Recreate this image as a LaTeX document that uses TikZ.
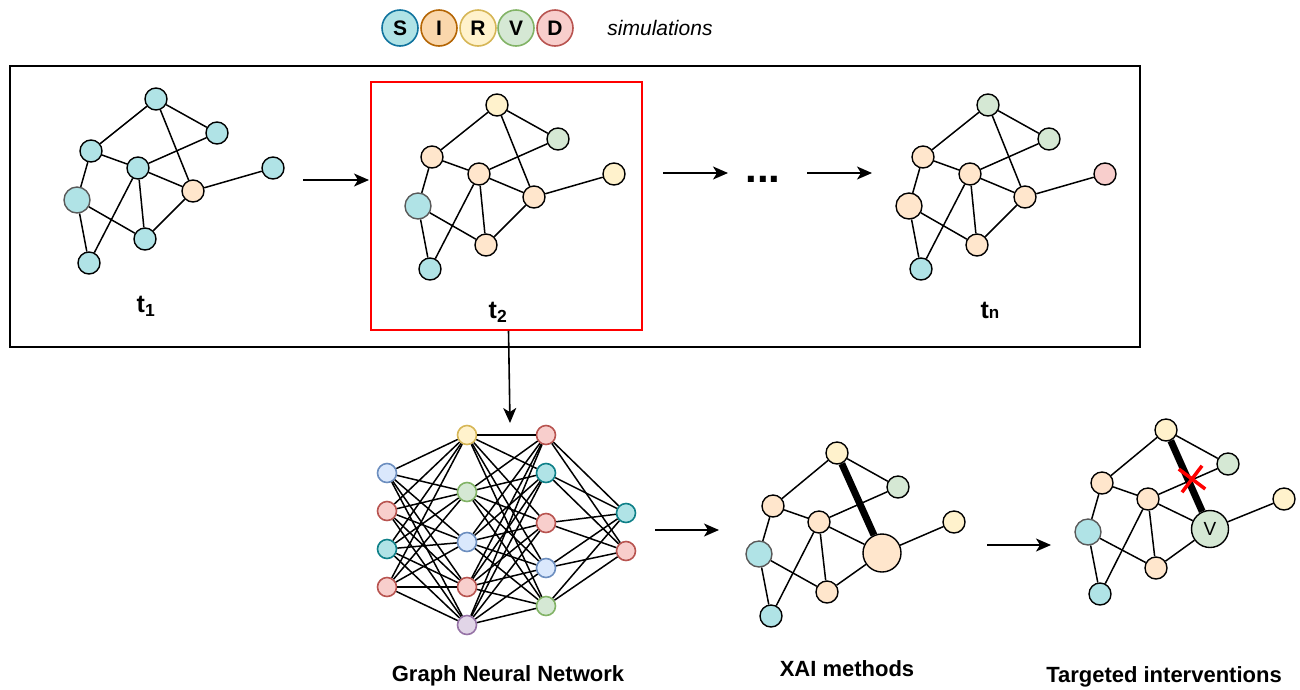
\documentclass[tikz,border=0pt]{standalone}
\usepackage{fontspec}
\setmainfont{Liberation Sans}
\usetikzlibrary{arrows.meta, shapes.misc, positioning, calc}

% state colours
\definecolor{ncyan}{HTML}{B0E3E6}
\definecolor{npeach}{HTML}{FFE6CC}
\definecolor{nyellow}{HTML}{FFF2CC}
\definecolor{ngreen}{HTML}{D5E8D4}
\definecolor{nred}{HTML}{F8CECC}
\definecolor{norange}{HTML}{FAD7AC}
\definecolor{nblue}{HTML}{DAE8FC}
\definecolor{npurple}{HTML}{E1D5E7}
% border colours
\definecolor{dcyan}{HTML}{10739E}
\definecolor{dteal}{HTML}{0E8088}
\definecolor{dorange}{HTML}{B46504}
\definecolor{dyellow}{HTML}{D6B656}
\definecolor{dgreen}{HTML}{82B366}
\definecolor{dred}{HTML}{B85450}
\definecolor{dblue}{HTML}{6C8EBF}
\definecolor{dpurple}{HTML}{9673A6}

\tikzset{
	gnode/.style={circle, draw, line width=1.4pt, inner sep=0pt, minimum size=22pt},
	bignode/.style={gnode, minimum size=26pt, draw=black!65},
	edge/.style={line width=1.5pt},
	hotedge/.style={line width=7pt},
	nnode/.style 2 args={circle, fill=#1, draw=#2, line width=1.6pt, inner sep=0pt, minimum size=19pt},
	keynode/.style={circle, line width=1.6pt, inner sep=0pt, minimum size=36pt, font=\fontsize{21}{21}\selectfont\bfseries},
	flow/.style={-{Stealth[length=15pt,width=13pt,inset=4pt]}, line width=1.6pt},
	caption/.style={font=\fontsize{22}{26}\selectfont\bfseries},
	steplbl/.style={font=\fontsize{25}{26}\selectfont\bfseries},
}

% edges shared by every contact graph
\def\graphedges{a/c, a/b, a/e, c/d, c/g, d/b, d/e, d/h, d/i, e/h, e/f, g/h, g/i}

\begin{document}
\begin{tikzpicture}[x=1pt, y=-1pt]
			\useasboundingbox (0,0) rectangle (1300,689);
			
			% Compartment key
			\foreach \l/\x/\f/\d in {S/400/ncyan/dcyan, I/439/norange/dorange, R/478/nyellow/dyellow, V/516/ngreen/dgreen, D/555/nred/dred}
				\node[keynode, fill=\f, draw=\d] (key\l) at (\x,28) {\l};
			\node[font=\fontsize{21}{25}\selectfont\itshape] (simlabel) at (660,28) {simulations};
			
			% Frames
			\node[draw, line width=1.5pt, minimum width=1130pt, minimum height=281pt] (frame) at (575,206.5) {};
			\node[draw=red, line width=1.5pt, minimum width=271pt, minimum height=248pt] (t2box) at (506.5,206) {};
			
			% Snapshot t1
			\foreach \n/\x/\y/\c in {a/156/99/ncyan, b/217/133/ncyan, c/91/151/ncyan, d/138/168/ncyan, e/193/191/npeach, f/273/168/ncyan, h/145/239/ncyan, i/89/263/ncyan}
				\node[gnode, fill=\c] (t1\n) at (\x,\y) {};
			\node[bignode, fill=ncyan] (t1g) at (77,200) {};
			\foreach \u/\v in \graphedges
				\draw[edge] (t1\u) -- (t1\v);
			\node[steplbl] (t1lbl) at (146,306) {t\textsubscript{1}};
			
			% Snapshot t2
			\begin{scope}[shift={(341,6)}]
				\foreach \n/\x/\y/\c in {a/156/99/nyellow, b/217/133/ngreen, c/91/151/npeach, d/138/168/npeach, e/193/191/npeach, f/273/168/nyellow, h/145/239/npeach, i/89/263/ncyan}
					\node[gnode, fill=\c] (t2\n) at (\x,\y) {};
				\node[bignode, fill=ncyan] (t2g) at (77,200) {};
				\foreach \u/\v in \graphedges
					\draw[edge] (t2\u) -- (t2\v);
				\node[steplbl] (t2lbl) at (157,306) {t\textsubscript{2}};
			\end{scope}
			
			% Snapshot tn
			\begin{scope}[shift={(832,6)}]
				\foreach \n/\x/\y/\c in {a/156/99/ngreen, b/217/133/ngreen, c/91/151/npeach, d/138/168/npeach, e/193/191/npeach, f/273/168/nred, h/145/239/npeach, i/89/263/ncyan}
					\node[gnode, fill=\c] (tn\n) at (\x,\y) {};
				\node[gnode, minimum size=26pt, fill=npeach] (tng) at (77,200) {};
				\foreach \u/\v in \graphedges
					\draw[edge] (tn\u) -- (tn\v);
				\node[steplbl] (tnlbl) at (158,304) {t{\fontsize{17}{17}\selectfont n}};
			\end{scope}
			
			% Time steps
			\coordinate (s1) at (303,180);
			\coordinate (e1) at (369,180);
			\draw[flow] (s1) -- (e1);
			\node[font=\fontsize{42}{42}\selectfont\bfseries, anchor=base] (dots) at (763,182) {...};
			\coordinate (s2) at (663,173);
			\coordinate (e2) at (728,173);
			\draw[flow] (s2) -- (e2);
			\coordinate (s3) at (807,173);
			\coordinate (e3) at (872,173);
			\draw[flow] (s3) -- (e3);
			
			% Into the GNN
			\coordinate (gnnin) at (510,423);
			\draw[flow] ([xshift=2pt]t2box.south) -- (gnnin);
			
			% Graph Neural Network
			\foreach \c/\d [count=\k] in {nblue/dblue, nred/dred, ncyan/dteal, nred/dred}
				\node[nnode={\c}{\d}] (l1-\k) at (387,435+38*\k) {};
			\foreach \y/\c/\d [count=\k] in {435/nyellow/dyellow, 492/ngreen/dgreen, 542/nblue/dblue, 587/nred/dred, 625/npurple/dpurple}
				\node[nnode={\c}{\d}] (l2-\k) at (467,\y) {};
			\foreach \y/\c/\d [count=\k] in {435/nred/dred, 473/ncyan/dteal, 523/nred/dred, 568/nblue/dblue, 606/ngreen/dgreen}
				\node[nnode={\c}{\d}] (l3-\k) at (546,\y) {};
			\foreach \y/\c/\d [count=\k] in {513/ncyan/dteal, 551/nred/dred}
				\node[nnode={\c}{\d}] (l4-\k) at (626,\y) {};
			\foreach \i in {1,...,4}
				\foreach \j in {1,...,5}
					\draw[edge] (l1-\i) -- (l2-\j);
			\foreach \i in {1,...,5}
				\foreach \j in {1,...,5}
					\draw[edge] (l2-\i) -- (l3-\j);
			\foreach \i in {1,...,5}
				\foreach \j in {1,...,2}
					\draw[edge] (l3-\i) -- (l4-\j);
			\node[caption] (gnnlbl) at (508,676) {Graph Neural Network};
			
			\coordinate (s4) at (655,530);
			\coordinate (e4) at (719,530);
			\draw[flow] (s4) -- (e4);
			
			% XAI explanation
			\foreach \n/\x/\y/\c in {a/837/453/nyellow, b/898/487/ngreen, c/773/506/npeach, d/819/522/npeach, f/954/522/nyellow, h/827/592/npeach, i/771/616/ncyan}
				\node[gnode, fill=\c] (x\n) at (\x,\y) {};
			\node[bignode, fill=ncyan] (xg) at (759,554) {};
			\node[gnode, fill=npeach, minimum size=38pt] (xe) at (882,553) {};
			\foreach \u/\v in {a/c, a/b, c/d, c/g, d/b, d/e, d/h, d/i, e/h, e/f, g/h, g/i}
				\draw[edge] (x\u) -- (x\v);
			\draw[hotedge] (xa) -- (xe);
			\node[caption] (xailbl) at (847,669) {XAI methods};
			
			\coordinate (s5) at (987,545);
			\coordinate (e5) at (1051,545);
			\draw[flow] (s5) -- (e5);
			
			% Targeted intervention
			\foreach \n/\x/\y/\c in {a/1166/430/nyellow, b/1228/464/ngreen, c/1102/483/npeach, d/1148/499/npeach, f/1284/499/nyellow, h/1156/568/npeach, i/1100/594/ncyan}
				\node[gnode, fill=\c] (v\n) at (\x,\y) {};
			\node[bignode, fill=ncyan] (vg) at (1088,532) {};
			\node[gnode, fill=ngreen, minimum size=37pt, font=\fontsize{19}{19}\selectfont] (ve) at (1210,529) {V};
			\foreach \u/\v in {a/c, a/b, c/d, c/g, d/b, d/e, d/h, d/i, e/h, e/f, g/h, g/i}
				\draw[edge] (v\u) -- (v\v);
			\draw[hotedge] (va) -- (ve);
			\node[cross out, draw=red, line width=3.5pt, minimum size=20pt, rotate=8] (cut) at (1192,479) {};
			\node[caption] (targetlbl) at (1164,677) {Targeted interventions};
		\end{tikzpicture}
\end{document}
